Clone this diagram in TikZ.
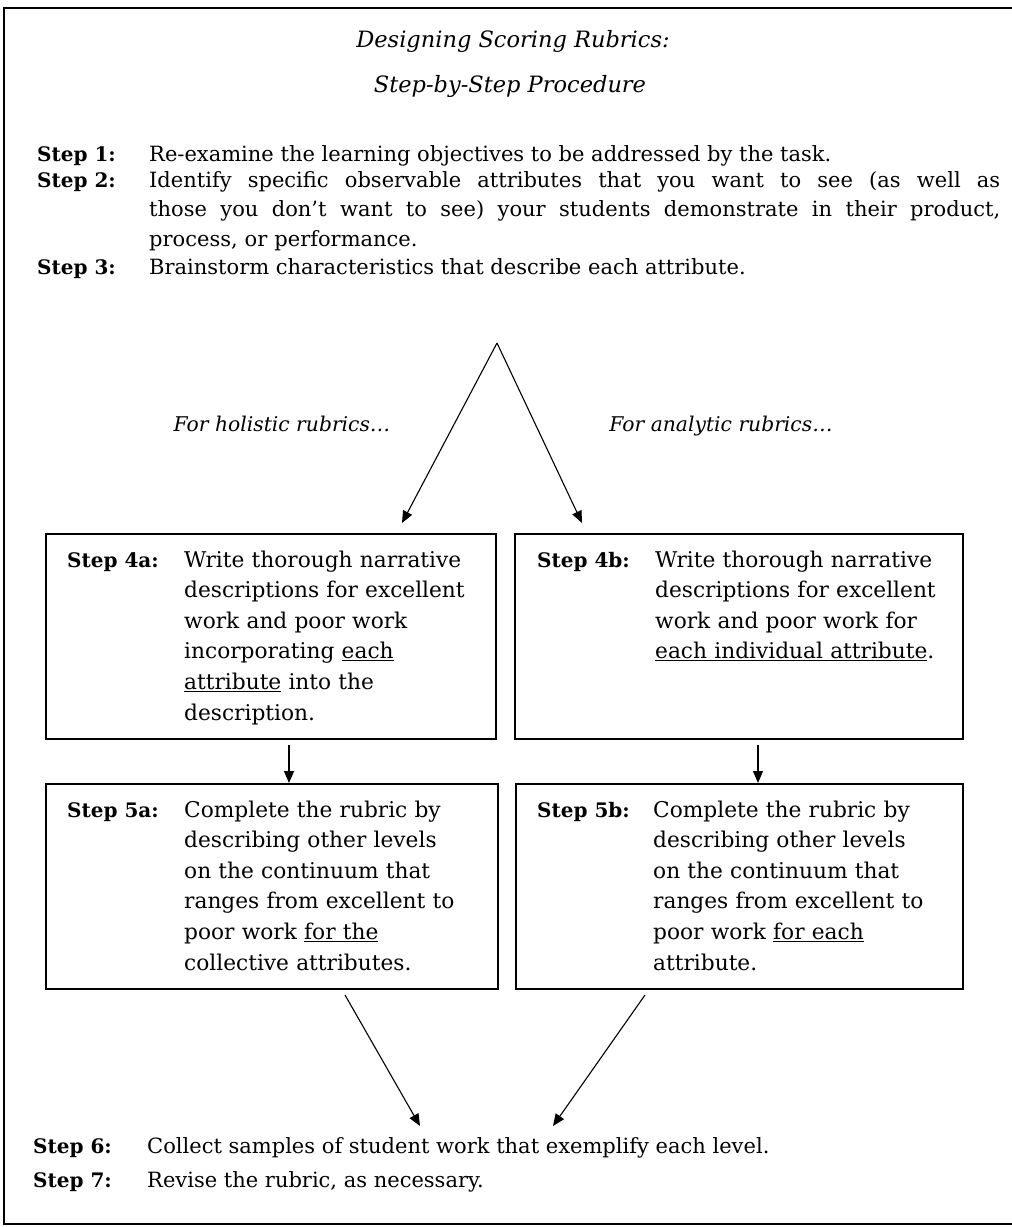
\documentclass[tikz,border=0pt]{standalone}
\usepackage{fontspec}
\setmainfont{DejaVu Serif}
\usetikzlibrary{arrows.meta}
\newcommand{\fullline}[1]{\leavevmode\hbox to 851pt{\spaceskip=0pt\xspaceskip=0pt #1}}
\begin{document}
\begin{tikzpicture}[x=1pt,y=-1pt,
  frame/.style={line width=1.7pt},
  box/.style={draw, line width=1.9pt, anchor=north west, inner sep=0pt, minimum height=205pt},
  flow/.style={line width=1.1pt, -{Triangle[length=12pt,width=10pt]}},
  ttl/.style={font=\fontsize{22.5}{26}\selectfont\itshape, anchor=base, inner sep=0pt},
  branch/.style={font=\fontsize{20.3}{24}\selectfont\itshape, anchor=base, inner sep=0pt},
  lab/.style={font=\fontsize{20}{30}\selectfont\bfseries, anchor=base west, inner sep=0pt},
  main/.style={font=\fontsize{21}{29.5}\selectfont, anchor=base west, inner sep=0pt, align=left},
  blab/.style={font=\fontsize{20}{30.6}\selectfont\bfseries, anchor=base west, inner sep=0pt},
  btxt/.style={font=\fontsize{21.7}{30.6}\selectfont, anchor=base west, inner sep=0pt, align=left, text width=300pt},
]
\useasboundingbox (0,0) rectangle (1012,1227);
\fill[white] (0,0) rectangle (1012,1227);
% outer frame (its right side lies outside the page)
\draw[frame] (1030,8) -- (4,8) -- (4,1224) -- (1030,1224);

% title
\node[ttl] (t1) at (513,47) {Designing Scoring Rubrics:};
\node[ttl] (t2) at (510,92) {Step-by-Step Procedure};

% steps 1-3
\node[lab] (s1l) at (37,161) {Step 1:};
\node[main] (s1) at (149,161) {Re-examine the learning objectives to be addressed by the task.};
\node[lab] (s2l) at (37,187) {Step 2:};
\node[main, text width=860pt] (s2) at (149,187)
  {\fullline{Identify specific observable attributes that you want to see (as well as}\\
   \fullline{those you don’t want to see) your students demonstrate in their product,}\\
   process, or performance.};
\node[lab] (s3l) at (37,274) {Step 3:};
\node[main] (s3) at (149,274) {Brainstorm characteristics that describe each attribute.};

% branch arrows
\coordinate (peak) at (497,343);
\coordinate (tip4a) at (402,523);
\coordinate (tip4b) at (582,523);
\draw[flow] (peak) -- (tip4a);
\draw[flow] (peak) -- (tip4b);
\node[branch] (hol) at (282,431) {For holistic rubrics…};
\node[branch] (ana) at (721,431) {For analytic rubrics…};

% step 4 boxes
\node[box, minimum width=450pt] (b4a) at (45,533) {};
\node[box, minimum width=448pt] (b4b) at (514,533) {};
\node[blab] (l4a) at (67,567) {Step 4a:};
\node[btxt] (x4a) at (184,567) {Write thorough narrative\\ descriptions for excellent\\ work and poor work\\ incorporating \underline{each}\\ \underline{attribute} into the\\ description.};
\node[blab] (l4b) at (537,567) {Step 4b:};
\node[btxt] (x4b) at (655,567) {Write thorough narrative\\ descriptions for excellent\\ work and poor work for\\ \underline{each individual attribute}.};

% down arrows
\coordinate (d4a) at (289,745);
\coordinate (u5a) at (289,783);
\coordinate (d4b) at (758,745);
\coordinate (u5b) at (758,783);
\draw[flow] (d4a) -- (u5a);
\draw[flow] (d4b) -- (u5b);

% step 5 boxes
\node[box, minimum width=452pt] (b5a) at (45,783) {};
\node[box, minimum width=447pt] (b5b) at (515,783) {};
\node[blab] (l5a) at (67,817) {Step 5a:};
\node[btxt] (x5a) at (184,817) {Complete the rubric by\\ describing other levels\\ on the continuum that\\ ranges from excellent to\\ poor work \underline{for the}\\ collective attributes.};
\node[blab] (l5b) at (537,817) {Step 5b:};
\node[btxt] (x5b) at (653,817) {Complete the rubric by\\ describing other levels\\ on the continuum that\\ ranges from excellent to\\ poor work \underline{for each}\\ attribute.};

% converging arrows
\coordinate (o5a) at (345,995);
\coordinate (o5b) at (645,995);
\coordinate (in6a) at (420,1126);
\coordinate (in6b) at (553,1126);
\draw[flow] (o5a) -- (in6a);
\draw[flow] (o5b) -- (in6b);

% steps 6-7
\node[lab] (s6l) at (33,1153) {Step 6:};
\node[main] (s6) at (147,1153) {Collect samples of student work that exemplify each level.};
\node[lab] (s7l) at (33,1187) {Step 7:};
\node[main] (s7) at (147,1187) {Revise the rubric, as necessary.};
\end{tikzpicture}
\end{document}
